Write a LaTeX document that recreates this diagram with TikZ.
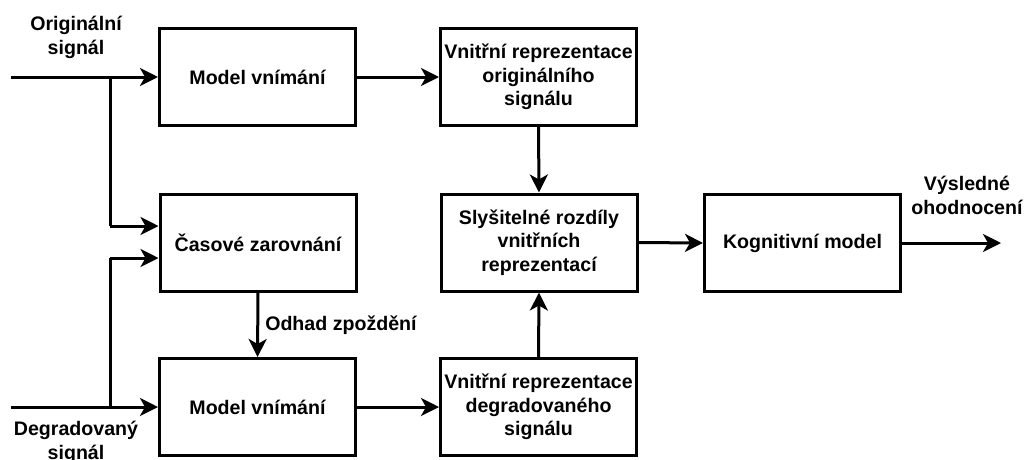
\documentclass[tikz,border=0pt]{standalone}
\usepackage{fontspec}
\setmainfont{Liberation Sans}
\usetikzlibrary{arrows.meta}
\tikzset{
  blk/.style={draw, line width=3pt, minimum width=196pt, minimum height=97pt, align=center, inner sep=0pt, font=\fontsize{19.6}{23.5}\selectfont\bfseries},
  lbl/.style={align=center, inner sep=0pt, font=\fontsize{19.6}{24}\selectfont\bfseries},
  conn/.style={line width=3pt, -{Stealth[length=18pt,width=18pt,inset=5pt]}},
  wire/.style={line width=3pt}
}
\begin{document}
\begin{tikzpicture}[x=1pt,y=-1pt]
\useasboundingbox (0,0) rectangle (1024,459);
\node[blk] (A) at (257.5,77) {Model vnímání};
\node[blk] (B) at (538.5,77) {Vnitřní reprezentace\\originálního\\signálu};
\node[blk] (C) at (258,242.5) {Časové zarovnání};
\node[blk] (D) at (257.5,407) {Model vnímání};
\node[blk] (E) at (538.5,407) {Vnitřní reprezentace\\degradovaného\\signálu};
\node[blk] (F) at (539,242.5) {Slyšitelné rozdíly\\vnitřních\\reprezentací};
\node[blk] (G) at (802.5,243) {Kognitivní model};

\node[lbl] (lo) at (76,37) {Originální\\signál};
\node[lbl] (ld) at (76,442) {Degradovaný\\signál};
\node[lbl] (lv) at (967,195) {Výsledné\\ohodnocení};

\coordinate (in1) at (11,77);
\coordinate (in2) at (11,407);
\coordinate (j1) at (110,77);
\coordinate (j2) at (110,407);
\coordinate (c1) at (110,226);
\coordinate (c2) at (110,258);
\coordinate (out) at (1001,243);

\draw[conn] (in1) -- (A.west);
\draw[conn] (in2) -- (D.west);
\draw[wire] (j1) -- (c1);
\draw[conn] (c1) -- (c1 -| C.west);
\draw[wire] (j2) -- (c2);
\draw[conn] (c2) -- (c2 -| C.west);
\draw[conn] (C.south) -- node[lbl, anchor=west, xshift=6pt] (lz) {Odhad zpoždění} (D.north);
\draw[conn] (A.east) -- (B.west);
\draw[conn] (D.east) -- (E.west);
\draw[conn] (B.south) -- (F.north);
\draw[conn] (E.north) -- (F.south);
\draw[conn] (F.east) -- (G.west);
\draw[conn] (G.east) -- (out);
\end{tikzpicture}
\end{document}
